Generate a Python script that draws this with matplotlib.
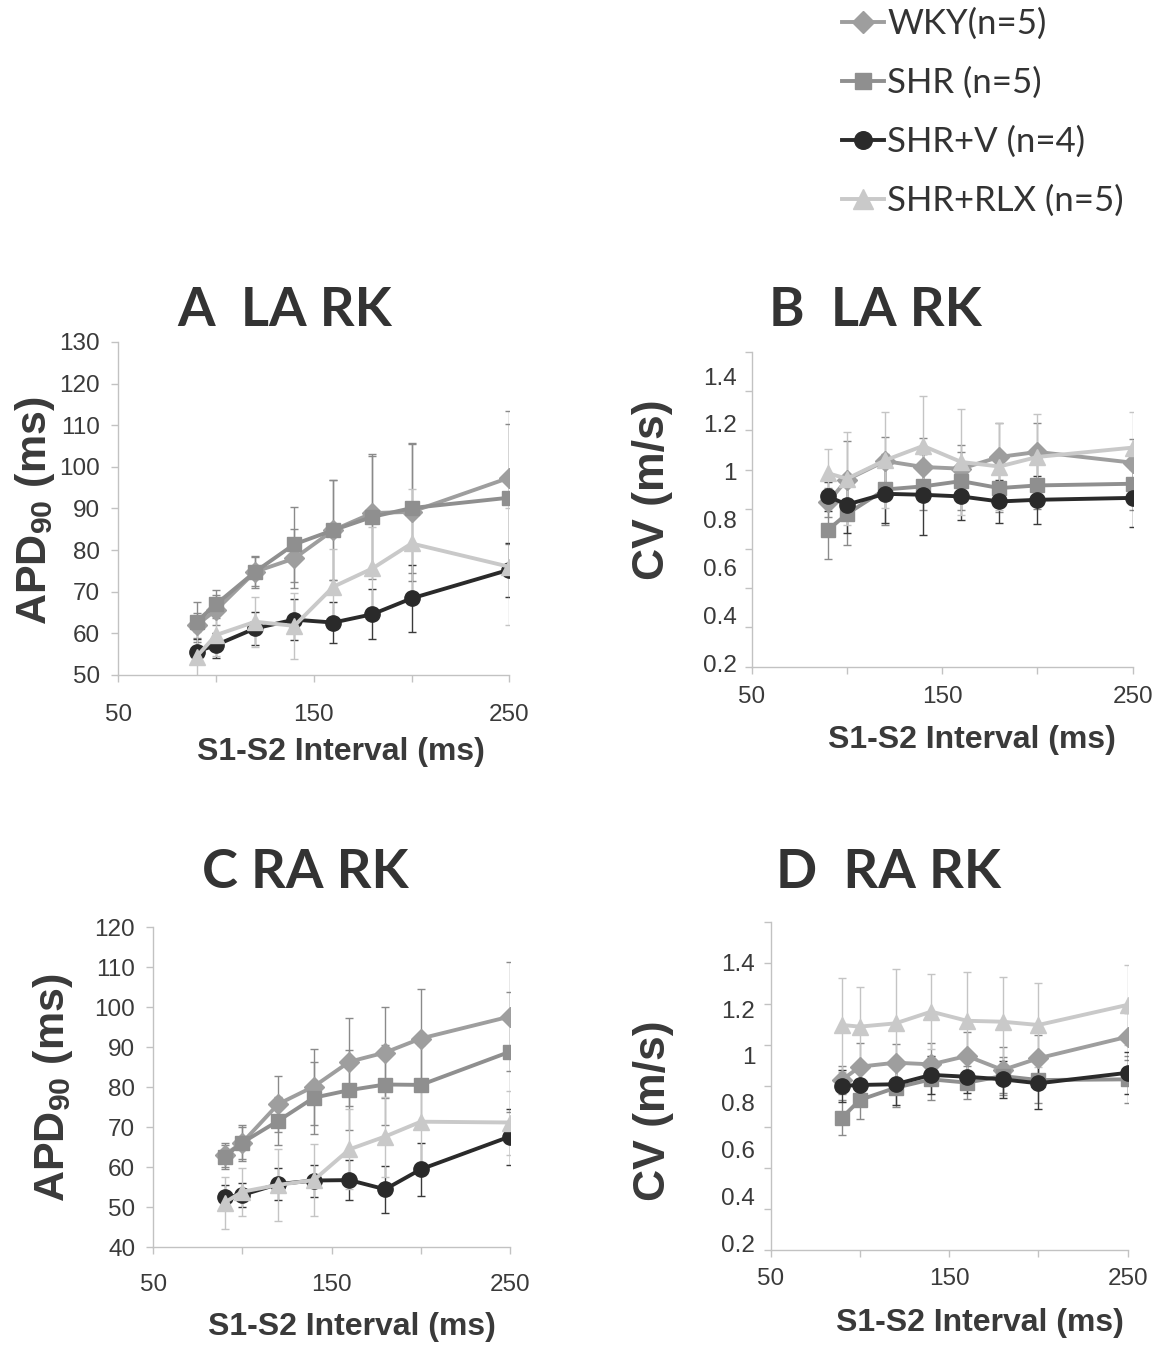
import numpy as np
import matplotlib.pyplot as plt

plt.rcParams['font.family'] = ['Liberation Sans', 'DejaVu Sans']
plt.rcParams['mathtext.fontset'] = 'custom'
plt.rcParams['mathtext.rm'] = 'Liberation Sans:bold'
plt.rcParams['mathtext.bf'] = 'Liberation Sans:bold'
plt.rcParams['mathtext.default'] = 'bf'

# S1-S2 interval (ms)
interval = [90, 100, 120, 140, 160, 180, 200, 250]
groups = ['WKY(n=5)', 'SHR (n=5)', 'SHR+V (n=4)', 'SHR+RLX (n=5)']

# A: LA APD90 (ms), rows = WKY, SHR, SHR+V, SHR+RLX
la_apd = [[62.0, 65.6, 74.8, 78.0, 84.8, 88.9, 89.2, 97.4],
          [62.8, 67.0, 74.8, 81.4, 84.8, 88.0, 90.1, 92.6],
          [55.6, 57.2, 61.2, 63.3, 62.6, 64.6, 68.4, 75.3],
          [54.4, 59.6, 62.8, 61.8, 71.2, 75.6, 81.6, 76.0]]
la_apd_se = [[3.0, 3.5, 3.5, 7.0, 12.0, 13.6, 16.5, 16.0],
             [4.8, 3.4, 3.8, 9.0, 12.0, 15.0, 15.5, 17.6],
             [3.0, 3.0, 4.0, 5.0, 5.0, 6.0, 8.0, 6.5],
             [6.0, 5.0, 6.0, 8.0, 9.0, 10.0, 13.0, 14.0]]

# B: LA CV (m/s)
la_cv = [[0.873, 0.967, 1.045, 1.020, 1.013, 1.062, 1.083, 1.038],
         [0.757, 0.824, 0.926, 0.939, 0.961, 0.932, 0.943, 0.950],
         [0.897, 0.863, 0.908, 0.904, 0.897, 0.876, 0.883, 0.891],
         [0.994, 0.971, 1.048, 1.108, 1.041, 1.022, 1.062, 1.101]]
la_cv_se = [[0.06, 0.16, 0.10, 0.12, 0.10, 0.14, 0.12, 0.10],
            [0.12, 0.13, 0.15, 0.10, 0.12, 0.10, 0.10, 0.11],
            [0.06, 0.12, 0.12, 0.17, 0.10, 0.09, 0.10, 0.12],
            [0.10, 0.195, 0.20, 0.21, 0.22, 0.18, 0.18, 0.15]]

# C: RA APD90 (ms)
ra_apd = [[63.1, 66.2, 75.8, 80.2, 86.4, 88.7, 92.2, 97.7],
          [62.7, 66.2, 71.6, 77.4, 79.3, 80.7, 80.6, 88.9],
          [52.5, 53.1, 55.8, 56.7, 56.8, 54.5, 59.5, 67.7],
          [51.2, 53.9, 55.6, 56.8, 64.5, 67.7, 71.4, 71.2]]
ra_apd_se = [[3.0, 4.5, 7.0, 9.5, 11.0, 11.3, 12.3, 13.7],
             [3.0, 4.0, 6.0, 9.0, 10.0, 10.0, 10.0, 15.0],
             [3.0, 3.0, 4.0, 4.0, 5.0, 5.9, 6.7, 7.0],
             [6.5, 6.0, 9.0, 9.0, 10.0, 10.0, 10.0, 8.0]]

# D: RA CV (m/s)
ra_cv = [[0.897, 0.954, 0.971, 0.964, 1.000, 0.940, 0.990, 1.082],
         [0.736, 0.812, 0.864, 0.900, 0.886, 0.914, 0.897, 0.900],
         [0.872, 0.876, 0.879, 0.919, 0.911, 0.900, 0.883, 0.928],
         [1.132, 1.125, 1.139, 1.189, 1.150, 1.146, 1.132, 1.218]]
ra_cv_se = [[0.06, 0.10, 0.08, 0.09, 0.10, 0.10, 0.10, 0.10],
            [0.074, 0.08, 0.08, 0.09, 0.07, 0.08, 0.10, 0.10],
            [0.07, 0.09, 0.09, 0.08, 0.07, 0.08, 0.11, 0.09],
            [0.20, 0.17, 0.23, 0.16, 0.21, 0.19, 0.18, 0.17]]

apd_ticks_a = [50, 60, 70, 80, 90, 100, 110, 120, 130]
apd_ticks_c = [40, 50, 60, 70, 80, 90, 100, 110, 120]
cv_ticks = [0.2, 0.4, 0.6, 0.8, 1.0, 1.2, 1.4]
cv_labels = ['0.2', '0.4', '0.6', '0.8', '1', '1.2', '1.4']

colors = ['#9e9e9e', '#8f8f8f', '#2a2a2a', '#c9c9c9']
err_colors = ['#8a8a8a', '#8a8a8a', '#3a3a3a', '#c4c4c4']
markers = ['D', 's', 'o', '^']
msizes = [10, 10, 11, 12]
txt = '#3a3a3a'
axis_col = '#c2c2c2'

W, H = 1173, 1345
fig = plt.figure(figsize=(W / 100, H / 100), dpi=100)


def px_axes(left, top, right, bottom):
    return fig.add_axes([left / W, 1 - bottom / H, (right - left) / W, (bottom - top) / H])


def draw(ax, means, ses):
    handles = []
    for i in range(4):
        ax.errorbar(interval, means[i], yerr=ses[i], fmt='none',
                    ecolor=err_colors[i], elinewidth=1.0, capsize=3, capthick=1.0,
                    zorder=2)
    for i in range(4):
        ln, = ax.plot(interval, means[i], color=colors[i], lw=2.8,
                      marker=markers[i], ms=msizes[i], mfc=colors[i], mec=colors[i],
                      zorder=3 + i, label=groups[i])
        handles.append(ln)
    return handles


def style(ax, ylim, ticks, labels, xpad, ypad, fake_ticks=False):
    ax.set_xlim(50, 250)
    ax.set_ylim(*ylim)
    for s in ['top', 'right']:
        ax.spines[s].set_visible(False)
    for s in ['left', 'bottom']:
        ax.spines[s].set_color(axis_col)
        ax.spines[s].set_linewidth(1.0)
    ax.set_xticks([50, 100, 150, 200, 250])
    ax.set_xticklabels(['50', '', '150', '', '250'])
    ax.set_yticks(ticks)
    ax.set_yticklabels(labels)
    ax.tick_params(axis='x', direction='out', length=5, width=1, color=axis_col,
                   labelsize=17.5, labelcolor=txt, pad=xpad)
    ax.tick_params(axis='y', direction='out', length=5, width=1, color=axis_col,
                   labelsize=17.5, labelcolor=txt, pad=ypad)
    if fake_ticks:
        # tick marks in the original sit on an even grid apart from the labels
        ax.tick_params(axis='y', which='major', length=0, pad=ypad + 5)
        ax.set_yticks(np.linspace(ylim[0], ylim[1], 9), minor=True)
        ax.tick_params(axis='y', which='minor', direction='out', length=5,
                       width=1, color=axis_col)


def labels(ax, ylabel, xl, yl, ysize):
    ax.set_xlabel('S1-S2 Interval (ms)', fontsize=23, fontweight='bold', color=txt,
                  va='center')
    ax.xaxis.set_label_coords(*xl)
    ax.set_ylabel(ylabel, fontsize=ysize, fontweight='bold', color=txt, va='center')
    ax.yaxis.set_label_coords(*yl)


axA = px_axes(118.3, 342, 509.3, 675)
hA = draw(axA, la_apd, la_apd_se)
style(axA, (50, 130), apd_ticks_a, [str(t) for t in apd_ticks_a], 16, 8)
labels(axA, r'APD$_{90}$ (ms)', (0.57, -0.231), (-0.212, 0.4925), 31)

axB = px_axes(751.7, 351.7, 1132.7, 666.7)
draw(axB, la_cv, la_cv_se)
style(axB, (0.1858, 1.5016), cv_ticks, cv_labels, 9, 6, fake_ticks=True)
labels(axB, 'CV (m/s)', (0.577, -0.233), (-0.26, 0.561), 32)

axC = px_axes(153.3, 927.3, 510, 1247.3)
draw(axC, ra_apd, ra_apd_se)
style(axC, (40, 120), apd_ticks_c, [str(t) for t in apd_ticks_c], 14, 8)
labels(axC, r'APD$_{90}$ (ms)', (0.557, -0.249), (-0.281, 0.498), 31)

axD = px_axes(770.5, 921.7, 1127.7, 1250)
draw(axD, ra_cv, ra_cv_se)
style(axD, (0.1714, 1.573), cv_ticks, cv_labels, 8, 6, fake_ticks=True)
labels(axD, 'CV (m/s)', (0.587, -0.222), (-0.327, 0.423), 32)

titles = ['A  LA RK', 'B  LA RK', 'C RA RK', 'D  RA RK']
tpos = [(285, 311), (875, 311), (305, 873), (888, 873)]
for t, (x, y) in zip(titles, tpos):
    fig.text(x / W, 1 - y / H, t, fontsize=39, fontweight='bold', family=['Lato', 'DejaVu Sans'],
             color='#333333', ha='center', va='center')

fig.legend(handles=hA, labels=groups, loc='upper left', bbox_to_anchor=(842 / W, 1 - 8 / H),
           frameon=False, borderpad=0, borderaxespad=0, handlelength=1.2, handletextpad=0.1,
           labelspacing=0.77, markerscale=1.15, prop={'family': ['Lato', 'DejaVu Sans'], 'size': 25},
           labelcolor='#333333')

fig.savefig('out.png', dpi=100)
